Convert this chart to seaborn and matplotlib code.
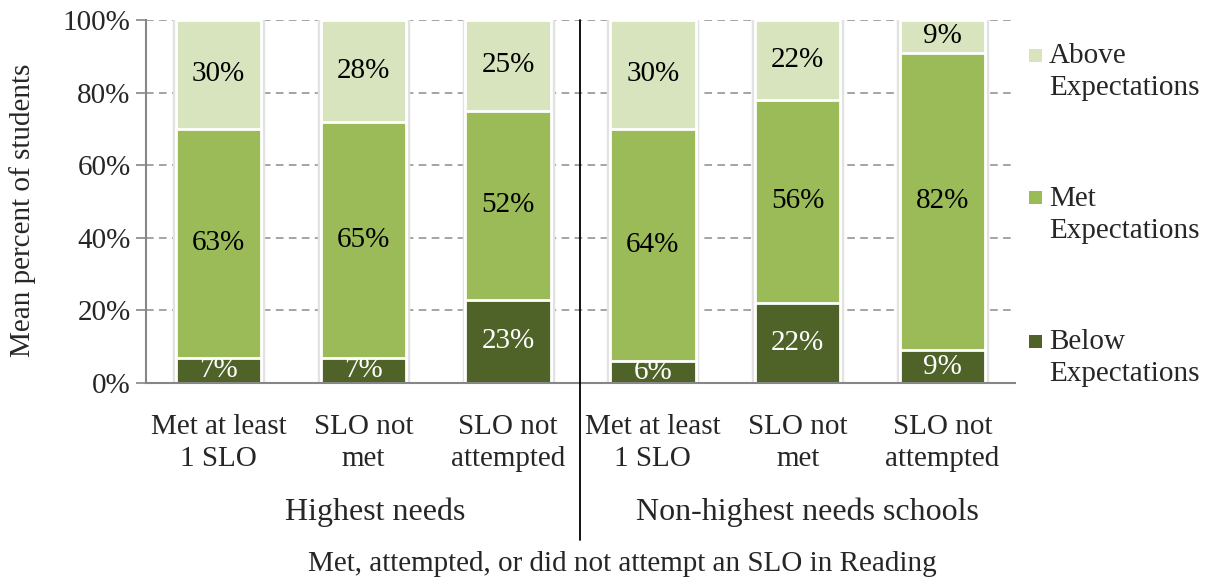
import matplotlib
matplotlib.use("Agg")
import matplotlib.pyplot as plt
from matplotlib.patches import Rectangle
import seaborn as sns
import pandas as pd
import numpy as np

# ---- data ----
bar_ids = ["h1", "h2", "h3", "n1", "n2", "n3"]
bar_labels = ["Met at least\n1 SLO", "SLO not\nmet", "SLO not\nattempted",
              "Met at least\n1 SLO", "SLO not\nmet", "SLO not\nattempted"]
group_labels = ["Highest needs", "Non-highest needs schools"]
below = [7, 7, 23, 6, 22, 9]
met = [63, 65, 52, 64, 56, 82]
above = [30, 28, 25, 30, 22, 9]
series_names = ["Above\nExpectations", "Met\nExpectations", "Below\nExpectations"]
y_ticks = [0, 20, 40, 60, 80, 100]

c_above = "#d7e4bd"
c_met = "#9bbb59"
c_below = "#4f6228"

sns.set_style("white")
plt.rcParams["font.family"] = ["Liberation Serif", "DejaVu Serif"]
FS = 21

df = pd.DataFrame({"id": bar_ids, "below": below, "met": met, "above": above})
df["cum_met"] = df["below"] + df["met"]
df["cum_all"] = df["cum_met"] + df["above"]

fig = plt.figure(figsize=(12.13, 5.80), dpi=100)
ax = fig.add_axes([146/1213, 1-383/580, (1015-146)/1213, (383-20)/580])

W = 0.59
kw = dict(order=bar_ids, width=W, edgecolor="white", linewidth=2, ax=ax, zorder=3)
sns.barplot(data=df, x="id", y="cum_all", color=c_above, saturation=1, **kw)
sns.barplot(data=df, x="id", y="cum_met", color=c_met, saturation=1, **kw)
sns.barplot(data=df, x="id", y="below", color=c_below, saturation=1, **kw)

# faint shadow outline around each full bar
for i in range(len(bar_ids)):
    ax.add_patch(Rectangle((i - W/2 - 0.012, 0), W + 0.024, 100.4, facecolor="none",
                           edgecolor="#e2e2e2", linewidth=2.5, zorder=2))

ax.set_xlim(-0.5, 5.5)
ax.set_ylim(0, 100)
ax.set_yticks(y_ticks)
ax.set_yticklabels([f"{t}%" for t in y_ticks], fontsize=FS)
ax.set_xticks(range(len(bar_ids)))
ax.set_xticklabels(bar_labels, fontsize=FS, linespacing=1.3)
ax.tick_params(axis="x", length=0, pad=22)
ax.tick_params(axis="y", length=7, width=1.2, color="#868686", direction="out", pad=4, left=True)
ax.set_xlabel("")
ax.set_ylabel("Mean percent of students", fontsize=FS, va="center")
ax.yaxis.set_label_coords((23 - 146) / 869, (383 - 210) / 363)

for s in ["top", "right"]:
    ax.spines[s].set_visible(False)
for s in ["left", "bottom"]:
    ax.spines[s].set_color("#868686")
    ax.spines[s].set_linewidth(1.5)
    ax.spines[s].set_zorder(4)

ax.yaxis.grid(True, linestyle=(0, (5, 3.5)), color="#8c8c8c", linewidth=1.1, zorder=0)
ax.set_axisbelow(True)

# value labels
for i in range(len(bar_ids)):
    ax.text(i, below[i] / 2, f"{below[i]}%", ha="center", va="center", color="white",
            fontsize=FS, zorder=5, clip_on=True)
    ax.text(i, below[i] + met[i] / 2, f"{met[i]}%", ha="center", va="center", color="black", fontsize=FS, zorder=5)
    ax.text(i, below[i] + met[i] + above[i] / 2, f"{above[i]}%", ha="center", va="center", color="black", fontsize=FS, zorder=5)

# separator
ax.plot([2.5, 2.5], [100, -43.3], color="black", linewidth=1.3, clip_on=False, zorder=6)

# group labels
trans = ax.get_xaxis_transform()
ax.text(1.08, -0.355, group_labels[0], transform=trans, ha="center", va="center", fontsize=23)
ax.text(4.07, -0.355, group_labels[1], transform=trans, ha="center", va="center", fontsize=23)

fig.text(622/1213, 1-564/580, "Met, attempted, or did not attempt an SLO in Reading",
         ha="center", va="center", fontsize=FS)

# legend
leg_cols = [c_above, c_met, c_below]
leg_sq = [55, 197, 341]
leg_txt = [72, 215, 358]
for name, col, ys, yt in zip(series_names, leg_cols, leg_sq, leg_txt):
    fig.patches.append(Rectangle((1029/1213, 1-(ys+6.5)/580), 13/1213, 13/580,
                                 transform=fig.transFigure, facecolor=col, edgecolor="none"))
    fig.text(1049/1213, 1-yt/580, name, ha="left", va="center", fontsize=FS, linespacing=1.3)

fig.savefig("out.png", dpi=100)
